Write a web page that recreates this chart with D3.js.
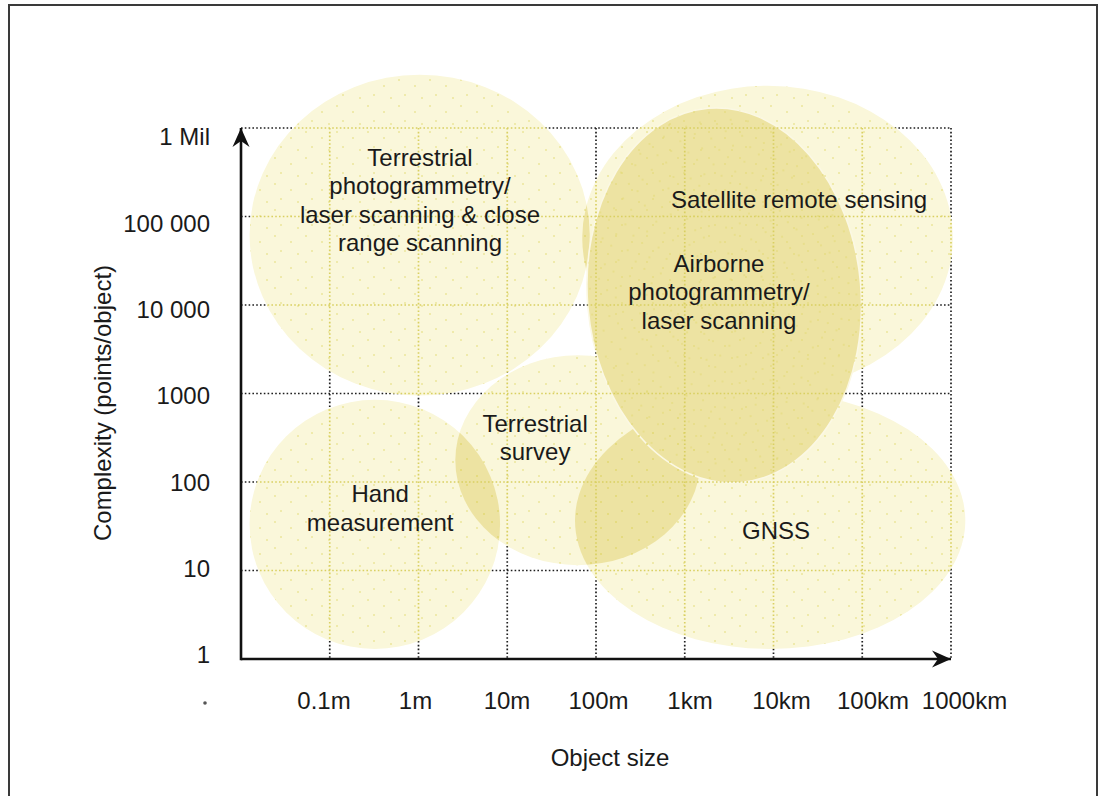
<!DOCTYPE html>
<html>
<head>
<meta charset="utf-8">
<script src="https://cdn.jsdelivr.net/npm/d3@7"></script>
<style>
  html, body { margin: 0; padding: 0; background: #fff; }
  svg { display: block; font-family: "Liberation Sans", Arial, sans-serif; }
</style>
</head>
<body>
<svg width="1105" height="796"></svg>
<script>
// axis ticks
const sizeTicks = [0.1, 1, 10, 100, 1e3, 1e4, 1e5, 1e6];
const sizeLabels = ['0.1m', '1m', '10m', '100m', '1km', '10km', '100km', '1000km'];
const complexityTicks = [1, 10, 100, 1e3, 1e4, 1e5, 1e6];
const complexityLabels = ['1', '10', '100', '1000', '10 000', '100 000', '1 Mil'];

// regions: object size range (m) and complexity range (points/object)
const regionNames = ['Terrestrial photogrammetry', 'Hand measurement', 'Terrestrial survey', 'GNSS', 'Satellite remote sensing', 'Airborne photogrammetry'];
const sizeMin = [0.0125, 0.0125, 2.6, 58, 70, 80];
const sizeMax = [85, 8.3, 1500, 1.45e6, 1.05e6, 97000];
const complexityMin = [950, 1.3, 11.5, 1.3, 1100, 97];
const complexityMax = [4e6, 850, 2700, 1040, 3e6, 1.7e6];
const tilt = [0, 0, 0, 0, 0, -5];

// region labels and where they sit (size, complexity)
const labelLines = [
    ['Terrestrial', 'photogrammetry/', 'laser scanning & close', 'range scanning'],
    ['Hand', 'measurement'],
    ['Terrestrial', 'survey'],
    ['GNSS'],
    ['Satellite remote sensing'],
    ['Airborne', 'photogrammetry/', 'laser scanning']
];
const labelSize = [1.04, 0.37, 20.6, 10700, 19400, 2430];
const labelComplexity = [154000, 51, 318, 28, 154000, 14000];

const svg = d3.select('svg');
const margin = { top: 128, left: 241 };
const innerWidth = 710;
const innerHeight = 531;
const light = '#faf7da';
const dark = '#ede3a2';

const xScale = d3.scaleLog().domain([0.01, 1e6]).range([0, innerWidth]);
const yScale = d3.scaleLog().domain([1, 1e6]).range([innerHeight, 0]);
// the printed tick labels are spaced a little differently from the grid
const xLabelScale = d3.scaleLog().domain([0.01, 1e6]).range([-9, 723]);
const yLabelScale = d3.scaleLog().domain([1, 1e6]).range([innerHeight - 4, 9]);

// frame
svg.append('rect')
    .attr('x', 9).attr('y', 5).attr('width', 1088).attr('height', 800)
    .attr('fill', 'none').attr('stroke', '#3a3a3a').attr('stroke-width', 2);

const defs = svg.append('defs');

const regions = regionNames.map((name, i) => {
    const x0 = xScale(sizeMin[i]), x1 = xScale(sizeMax[i]);
    const y0 = yScale(complexityMax[i]), y1 = yScale(complexityMin[i]);
    return { name, i, cx: (x0 + x1) / 2, cy: (y0 + y1) / 2, rx: (x1 - x0) / 2, ry: (y1 - y0) / 2, tilt: tilt[i] };
});
const lightRegions = regions.filter(d => d.name !== 'Airborne photogrammetry');
const airborne = regions.filter(d => d.name === 'Airborne photogrammetry');

// ellipses in page coordinates (so they can live directly in a clipPath)
const addEllipses = (sel, data) => sel.selectAll('ellipse').data(data)
    .enter().append('ellipse')
        .attr('cx', d => d.cx)
        .attr('cy', d => d.cy)
        .attr('rx', d => d.rx)
        .attr('ry', d => d.ry)
        .attr('transform', d => `translate(${margin.left},${margin.top}) rotate(${d.tilt},${d.cx},${d.cy})`);

// clip to the union of regions, one clip per region, and a mask for outside
addEllipses(defs.append('clipPath').attr('id', 'inside'), regions);
regions.forEach(r => addEllipses(defs.append('clipPath').attr('id', `clip-${r.i}`), [r]));

const mask = defs.append('mask').attr('id', 'outside')
    .attr('maskUnits', 'userSpaceOnUse')
    .attr('x', 0).attr('y', 0).attr('width', 1105).attr('height', 796);
mask.append('rect').attr('width', 1105).attr('height', 796).attr('fill', '#fff');
addEllipses(mask.append('g'), regions).attr('fill', '#000');

const stipple = defs.append('pattern').attr('id', 'stipple')
    .attr('patternUnits', 'userSpaceOnUse').attr('width', 31).attr('height', 26);
[[3, 4], [19, 10], [9, 19], [26, 22]].forEach(p => {
    stipple.append('circle').attr('cx', p[0]).attr('cy', p[1]).attr('r', 0.8).attr('fill', '#e2d96e');
});

// regions; where two light regions overlap the colour is darker
addEllipses(svg.append('g'), lightRegions).attr('fill', light);
const overlaps = svg.append('g');
lightRegions.forEach((a, ai) => {
    lightRegions.slice(ai + 1).forEach(b => {
        addEllipses(overlaps.append('g').attr('clip-path', `url(#clip-${b.i})`), [a])
            .attr('fill', dark);
    });
});
addEllipses(svg.append('g'), airborne)
    .attr('fill', dark)
    .attr('stroke', '#fbf8e4')
    .attr('stroke-width', 1.6);
addEllipses(svg.append('g'), regions).attr('fill', 'url(#stipple)');

// grid
const drawGrid = (sel, colour) => {
    sel.selectAll('.h').data(complexityTicks.slice(1))
        .enter().append('line')
            .attr('x1', 0).attr('x2', innerWidth)
            .attr('y1', d => yScale(d)).attr('y2', d => yScale(d));
    sel.selectAll('.v').data(sizeTicks)
        .enter().append('line')
            .attr('x1', d => xScale(d)).attr('x2', d => xScale(d))
            .attr('y1', 0).attr('y2', innerHeight);
    sel.selectAll('line')
        .attr('stroke', colour)
        .attr('stroke-width', 1.7)
        .attr('stroke-dasharray', '1.6 2.2');
};
drawGrid(svg.append('g').attr('mask', 'url(#outside)')
    .append('g').attr('transform', `translate(${margin.left},${margin.top})`), '#1e1e1e');
drawGrid(svg.append('g').attr('clip-path', 'url(#inside)')
    .append('g').attr('transform', `translate(${margin.left},${margin.top})`), '#d9d062');

// axes with arrows
defs.append('marker').attr('id', 'arrow')
    .attr('viewBox', '-20 -10 22 20')
    .attr('refX', 0).attr('refY', 0)
    .attr('markerWidth', 22).attr('markerHeight', 20)
    .attr('markerUnits', 'userSpaceOnUse')
    .attr('orient', 'auto')
  .append('path')
    .attr('d', 'M0,0 L-19,-8.5 L-13,0 L-19,8.5 Z')
    .attr('fill', '#111');

const axes = svg.append('g')
    .attr('transform', `translate(${margin.left},${margin.top})`);
axes.append('line')
    .attr('x1', 0).attr('y1', innerHeight).attr('x2', innerWidth).attr('y2', innerHeight)
    .attr('stroke', '#111').attr('stroke-width', 2.6)
    .attr('marker-end', 'url(#arrow)');
axes.append('line')
    .attr('x1', 0).attr('y1', innerHeight + 1.3).attr('x2', 0).attr('y2', 0)
    .attr('stroke', '#111').attr('stroke-width', 2.6)
    .attr('marker-end', 'url(#arrow)');

const yAxisG = axes.append('g')
    .call(d3.axisLeft(yLabelScale)
        .tickValues(complexityTicks)
        .tickFormat((d, i) => complexityLabels[i])
        .tickSize(0)
        .tickPadding(31));
const xAxisG = axes.append('g')
    .attr('transform', `translate(0,${innerHeight})`)
    .call(d3.axisBottom(xLabelScale)
        .tickValues(sizeTicks)
        .tickFormat((d, i) => sizeLabels[i])
        .tickSize(0)
        .tickPadding(33));
[yAxisG, xAxisG].forEach(a => {
    a.select('.domain').remove();
    a.attr('font-size', 24).attr('font-family', null);
    a.selectAll('text').attr('fill', '#1a1a1a');
});

// axis titles
svg.append('text')
    .attr('x', 610).attr('y', 766)
    .attr('text-anchor', 'middle')
    .attr('font-size', 24).attr('fill', '#1a1a1a')
    .text('Object size');
svg.append('text')
    .attr('transform', 'translate(111,403) rotate(-90)')
    .attr('text-anchor', 'middle')
    .attr('font-size', 24).attr('fill', '#1a1a1a')
    .text('Complexity (points/object)');

// small scan mark under the axis
svg.append('circle').attr('cx', 205).attr('cy', 703).attr('r', 1.8).attr('fill', '#555');

// region labels
const lineHeight = 28.5;
regionNames.forEach((name, i) => {
    const lines = labelLines[i];
    const t = axes.append('text')
        .attr('x', xScale(labelSize[i]))
        .attr('y', yScale(labelComplexity[i]) - (lines.length - 1) * lineHeight / 2)
        .attr('text-anchor', 'middle')
        .attr('font-size', 24)
        .attr('fill', '#1a1a1a');
    lines.forEach((line, j) => {
        t.append('tspan')
            .attr('x', xScale(labelSize[i]))
            .attr('dy', j === 0 ? '0.35em' : lineHeight)
            .text(line);
    });
});
</script>
</body>
</html>
